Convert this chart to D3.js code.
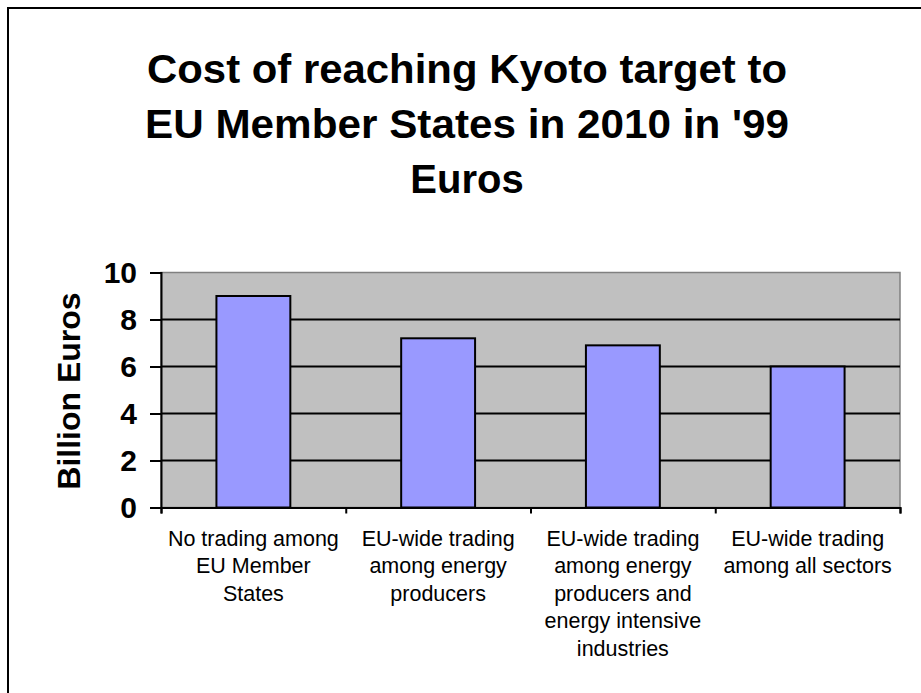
<!DOCTYPE html>
<html>
<head>
<meta charset="utf-8">
<script src="https://cdn.jsdelivr.net/npm/d3@7"></script>
<style>
    body { margin: 0; background: #fff; }
    svg { display: block; }
</style>
</head>
<body>
<svg id="drawing_region"></svg>
<script>
const titleLines = ["Cost of reaching Kyoto target to", "EU Member States in 2010 in '99", "Euros"];
const categories = [
    ["No trading among", "EU Member", "States"],
    ["EU-wide trading", "among energy", "producers"],
    ["EU-wide trading", "among energy", "producers and", "energy intensive", "industries"],
    ["EU-wide trading", "among all sectors"]
];
const values = [9.0, 7.2, 6.9, 6.0];
const yTicks = [0, 2, 4, 6, 8, 10];
const yLabel = "Billion Euros";

class BarChart {

    constructor( config ) {
        this.config = {
            parent: config.parent,
            width: config.width || 921,
            height: config.height || 693,
            margin: config.margin
        }
        this.init();
    }

    init() {
        let self = this;
        const m = self.config.margin;

        self.svg = d3.select( self.config.parent )
            .attr('width', self.config.width)
            .attr('height', self.config.height)
            .style('font-family', 'Liberation Sans, Arial, sans-serif');

        self.inner_width = self.config.width - m.left - m.right;
        self.inner_height = self.config.height - m.top - m.bottom;

        self.chart = self.svg.append('g')
            .attr('transform', `translate(${m.left}, ${m.top})`);

        self.xscale = d3.scaleBand()
            .domain( d3.range(categories.length) )
            .range( [0, self.inner_width] )
            .paddingInner(0.6)
            .paddingOuter(0.3);

        // category boundaries for the tick marks
        self.xedge = d3.scaleLinear()
            .domain( [0, categories.length] )
            .range( [0, self.inner_width] );

        self.yscale = d3.scaleLinear()
            .domain( [0, 10] )
            .range( [self.inner_height, 0] );
    }

    render() {
        let self = this;
        const w = self.inner_width, h = self.inner_height;

        // frame around the slide
        self.svg.append('path')
            .attr('d', `M8,${self.config.height} V8 H${self.config.width}`)
            .attr('fill', 'none')
            .attr('stroke', 'black')
            .attr('stroke-width', 2);

        // title (the original font is a bit wider than Liberation)
        const title_len = [640, 644, null];
        self.svg.append('g')
            .selectAll('text')
            .data(titleLines)
            .join('text')
            .attr('x', 467)
            .attr('y', (d, i) => 83 + i * 55)
            .attr('text-anchor', 'middle')
            .attr('font-size', '40px')
            .attr('font-weight', 'bold')
            .attr('textLength', (d, i) => title_len[i])
            .attr('lengthAdjust', 'spacingAndGlyphs')
            .text(d => d);

        // plot area
        self.chart.append('rect')
            .attr('width', w)
            .attr('height', h)
            .attr('fill', '#C0C0C0')
            .attr('stroke', '#808080')
            .attr('stroke-width', 1.5);

        self.chart.append('g')
            .selectAll('line')
            .data(yTicks.filter(d => d > 0 && d < 10))
            .join('line')
            .attr('x1', 0)
            .attr('x2', w)
            .attr('y1', d => self.yscale(d))
            .attr('y2', d => self.yscale(d))
            .attr('stroke', 'black')
            .attr('stroke-width', 2);

        // bars
        self.chart.selectAll('.bar')
            .data(values)
            .join('rect')
            .attr('class', 'bar')
            .attr('x', (d, i) => self.xscale(i))
            .attr('y', d => self.yscale(d))
            .attr('width', self.xscale.bandwidth())
            .attr('height', d => h - self.yscale(d))
            .attr('fill', '#9999FF')
            .attr('stroke', 'black')
            .attr('stroke-width', 2);

        // y axis
        const yaxis = self.chart.append('g')
            .call( d3.axisLeft(self.yscale).tickValues(yTicks).tickSize(11).tickPadding(13) );
        yaxis.select('.domain').attr('stroke-width', 2);
        yaxis.selectAll('.tick line').attr('stroke-width', 2);
        yaxis.selectAll('.tick text')
            .attr('font-size', '30px')
            .attr('font-weight', 'bold')
            .attr('font-family', 'Liberation Sans, Arial, sans-serif')
            .attr('fill', 'black');

        // x axis
        const xaxis = self.chart.append('g')
            .attr('transform', `translate(0, ${h})`)
            .call( d3.axisBottom(self.xedge).tickValues(d3.range(categories.length + 1)).tickSize(6).tickFormat('') );
        xaxis.select('.domain').attr('stroke-width', 2);
        xaxis.selectAll('.tick line').attr('stroke-width', 2);

        self.chart.append('g')
            .selectAll('text')
            .data(categories)
            .join('text')
            .attr('x', (d, i) => self.xscale(i) + self.xscale.bandwidth() / 2)
            .attr('y', h + 38)
            .attr('text-anchor', 'middle')
            .attr('font-size', '21.5px')
            .selectAll('tspan')
            .data(d => d)
            .join('tspan')
            .attr('x', function() { return d3.select(this.parentNode).attr('x'); })
            .attr('dy', (d, i) => i == 0 ? 0 : 27.5)
            .text(d => d);

        // y label
        self.svg.append('text')
            .attr('transform', `translate(80, 391) rotate(-90)`)
            .attr('text-anchor', 'middle')
            .attr('font-size', '32px')
            .attr('font-weight', 'bold')
            .text(yLabel);
    }
}

const chart = new BarChart({
    parent: '#drawing_region',
    width: 921,
    height: 693,
    margin: {top: 272.5, right: 21, bottom: 185.5, left: 161}
});
chart.render();
</script>
</body>
</html>
